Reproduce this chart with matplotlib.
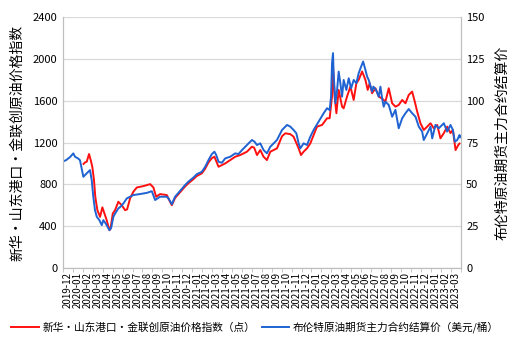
import matplotlib
matplotlib.use("Agg")
import matplotlib.pyplot as plt
from matplotlib.ticker import FixedLocator, NullFormatter, FixedFormatter

plt.rcParams['font.family'] = ['Noto Sans CJK SC', 'DejaVu Sans']

# month labels of the category axis (2019-12 .. 2023-03)
months = []
for y, m in [(2019, 12)] + [(yy, mm) for yy in (2020, 2021, 2022) for mm in range(1, 13)] + [(2023, mm) for mm in (1, 2, 3)]:
    months.append("%d-%02d" % (y, m))

# time in months since 2019-12-01, value in points
red_t = [2.07, 2.22, 2.39, 2.62, 2.79, 2.95, 3.12, 3.25, 3.46, 3.73, 3.96, 4.23, 4.40, 4.67, 4.79,
         5.01, 5.24, 5.57, 5.91, 6.25, 6.45, 6.75, 7.08, 7.43, 8.09, 8.77, 9.10, 9.37, 9.77, 10.45,
         10.61, 10.95, 11.28, 11.79, 12.29, 12.62, 13.13, 13.47, 13.97, 14.31, 14.64, 14.98, 15.24,
         15.65, 15.99, 16.32, 16.83, 17.33, 17.83, 18.51, 19.01, 19.24, 19.52, 19.85, 20.18, 20.52,
         20.86, 21.53, 22.04, 22.37, 22.87, 23.20, 23.71, 23.95, 24.21, 24.55, 24.89, 25.56, 26.07,
         26.57, 26.83, 27.07, 27.17, 27.33, 27.51, 27.74, 28.08, 28.24, 28.58, 28.92, 29.25, 29.52,
         29.75, 30.10, 30.43, 30.66, 30.86, 31.10, 31.44, 31.77, 32.11, 32.44, 32.78, 33.12, 33.45,
         33.78, 34.13, 34.46, 34.79, 35.13, 35.40, 35.64, 35.97, 36.30, 36.65, 36.98, 37.31, 37.65,
         37.98, 38.32, 38.66, 38.99, 39.23, 39.50, 39.77, 39.90]
red_v = [995, 1010, 1016, 1090, 1032, 968, 840, 681, 553, 489, 580, 505, 457, 361, 380,
         521, 553, 633, 601, 553, 560, 665, 729, 770, 783, 802, 770, 681, 707, 697,
         665, 600, 670, 725, 780, 810, 850, 880, 905, 950, 1010, 1050, 1064,
         968, 984, 1000, 1032, 1064, 1080, 1112, 1160, 1150, 1080, 1128, 1064, 1032,
         1112, 1144, 1260, 1288, 1280, 1256, 1144, 1080, 1112, 1144, 1192, 1352, 1368,
         1432, 1432, 1639, 1927, 1639, 1480, 1703, 1543, 1527, 1639, 1735, 1607, 1767,
         1799, 1879, 1799, 1703, 1767, 1671, 1719, 1640, 1620, 1591, 1719, 1575, 1543,
         1559, 1607, 1575, 1655, 1687, 1590, 1495, 1384, 1320, 1352, 1384, 1336, 1368,
         1240, 1290, 1352, 1290, 1320, 1128, 1176, 1190]

# time in months since 2019-12-01, Brent settlement price in USD/bbl
blue_t = [0.03, 0.30, 0.71, 1.04, 1.21, 1.51, 1.71, 2.05, 2.39, 2.72, 2.89, 3.05, 3.22, 3.40, 3.66,
          3.90, 4.06, 4.33, 4.67, 4.84, 5.07, 5.24, 5.57, 5.84, 6.08, 6.42, 6.75, 7.08, 7.76, 8.43,
          8.94, 9.27, 9.77, 10.45, 10.61, 10.95, 11.28, 11.79, 12.29, 12.62, 13.13, 13.47, 13.97,
          14.31, 14.64, 14.98, 15.24, 15.42, 15.65, 15.99, 16.32, 16.83, 17.33, 17.66, 18.01, 18.51,
          19.01, 19.27, 19.52, 19.85, 20.18, 20.52, 20.86, 21.53, 22.04, 22.54, 22.87, 23.20, 23.48,
          23.71, 23.88, 24.21, 24.55, 24.89, 25.22, 25.72, 26.23, 26.57, 26.83, 26.97, 27.07, 27.17,
          27.23, 27.41, 27.58, 27.74, 27.91, 28.08, 28.24, 28.51, 28.75, 28.99, 29.25, 29.52, 29.75,
          30.00, 30.20, 30.43, 30.60, 30.76, 31.10, 31.23, 31.51, 31.77, 31.94, 32.11, 32.27, 32.44,
          32.78, 33.12, 33.45, 33.78, 34.13, 34.46, 34.79, 35.13, 35.47, 35.80, 36.14, 36.30, 36.65,
          36.98, 37.15, 37.48, 37.81, 38.32, 38.66, 38.99, 39.23, 39.43, 39.67, 39.90, 39.98]
blue_v = [63.8, 64.4, 66.3, 68.5, 66.5, 65.5, 64.4, 54.5, 56.6, 58.5, 52.5, 42.5, 34.6, 30.6, 28.6,
          25.6, 28.6, 26.3, 22.6, 23.8, 30.6, 32.5, 35.6, 36.9, 38.6, 41.6, 42.6, 43.6, 44.2, 44.9,
          45.9, 40.6, 42.6, 42.6, 41.6, 38.1, 42.6, 46.1, 49.6, 51.6, 54.1, 56.1, 57.5,
          60.5, 64.5, 68.1, 69.5, 67.5, 63.5, 62.9, 65.5, 66.5, 68.5, 68.1, 70.5, 73.5,
          76.5, 75.5, 73.5, 74.5, 70.5, 68.5, 72.5, 76.5, 82.5, 85.5, 84.5, 82.5, 80.5,
          74.5, 71.5, 74.5, 73.5, 78.5, 82.5, 87.5, 92.5, 95.5, 94.4, 102.4, 122.4, 128.4,
          116.4, 98.5, 106.4, 117.4, 110.4, 102.4, 112.4, 106.4, 113.4, 107.4, 112.4, 110.4, 116.4,
          120.4, 123.4, 118.4, 114.4, 112.4, 105.4, 108.4, 106.3, 102.4, 108.4, 101.4, 96.4, 99.4,
          97.4, 90.4, 94.5, 83.5, 89.5, 92.5, 95.0, 92.5, 90.4, 84.5, 81.5, 76.5, 80.5,
          84.5, 77.5, 85.5, 83.5, 86.5, 81.5, 85.5, 82.5, 75.5, 76.5, 79.5, 78.1]

red_name = "新华・山东港口・金联创原油价格指数（点）"
blue_name = "布伦特原油期货主力合约结算价（美元/桶）"

fig = plt.figure(figsize=(5.1, 3.51), dpi=100)
ax = fig.add_axes([0.1235, 0.2365, 0.7795, 0.715])
ax2 = ax.twinx()

l1, = ax.plot(red_t, red_v, color="#FF1010", lw=1.4)
l2, = ax2.plot(blue_t, blue_v, color="#1F63D2", lw=1.4)
ax.set_zorder(ax2.get_zorder() - 1)
ax2.patch.set_visible(False)
ax.patch.set_visible(True)

ax.set_xlim(0, len(months))
ax.set_ylim(0, 2400)
ax2.set_ylim(0, 150)
ax.set_yticks(range(0, 2401, 400))
ax2.set_yticks(range(0, 151, 25))
ax.grid(axis="y", color="#D9D9D9", lw=0.9)
ax.set_axisbelow(True)

ax.xaxis.set_major_locator(FixedLocator([i + 0.5 for i in range(len(months))]))
ax.xaxis.set_major_formatter(FixedFormatter(months))
ax.xaxis.set_minor_locator(FixedLocator(range(len(months) + 1)))
ax.xaxis.set_minor_formatter(NullFormatter())
ax.tick_params(axis="x", which="major", length=0, labelsize=7, labelrotation=90, pad=3)
ax.tick_params(axis="x", which="minor", length=3, color="#BFBFBF")
ax.tick_params(axis="y", length=0, labelsize=8, pad=4)
ax2.tick_params(axis="y", length=0, labelsize=8, pad=4)

for a in (ax, ax2):
    a.spines["top"].set_visible(False)
    for s in ("left", "right", "bottom"):
        a.spines[s].set_color("#BFBFBF")

ax.set_ylabel("新华・山东港口・金联创原油价格指数", fontsize=10, labelpad=6)
ax2.set_ylabel("布伦特原油期货主力合约结算价", fontsize=10, labelpad=8)

fig.legend([l1, l2], [red_name, blue_name], loc="center", bbox_to_anchor=(0.5, 0.068),
           ncol=2, frameon=False, fontsize=7.7, handlelength=2.6, columnspacing=0.6,
           handletextpad=0.3, borderpad=0, borderaxespad=0)

fig.savefig("out.png", dpi=100)
